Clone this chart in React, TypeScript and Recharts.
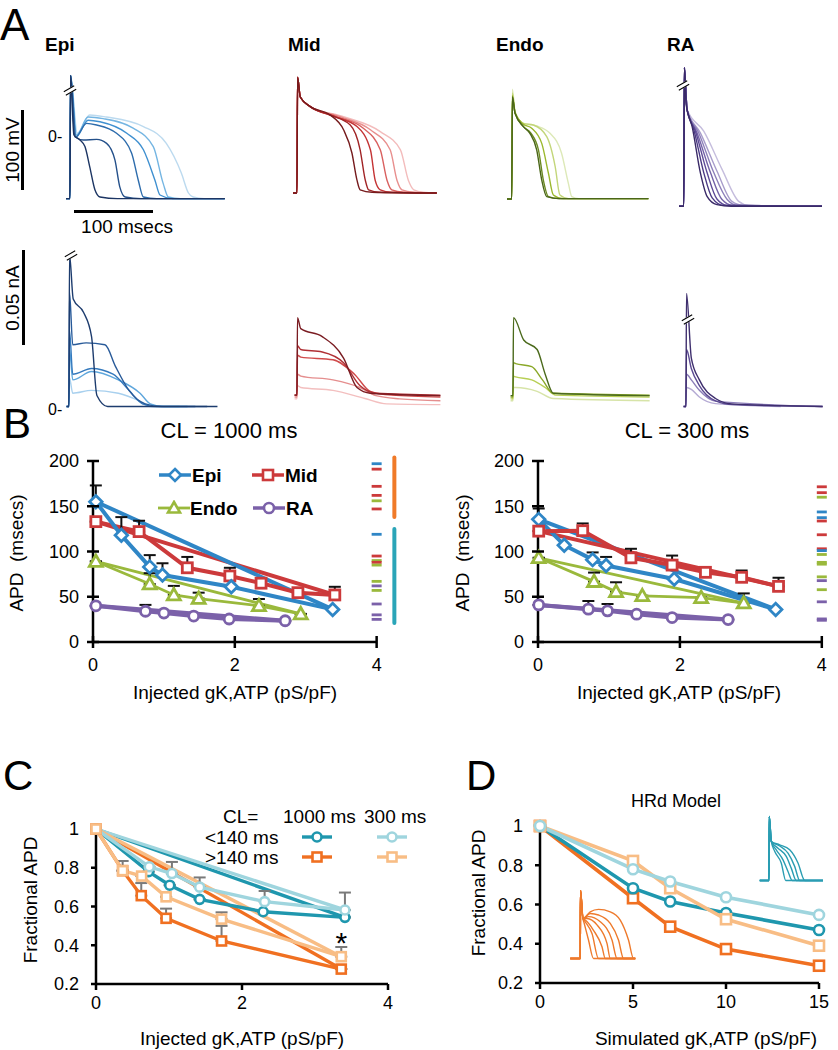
import { ComposedChart, LineChart, Line, XAxis, YAxis, Scatter, ErrorBar, ReferenceLine, ReferenceDot } from 'recharts';

const FONT = '"Liberation Sans", Arial, sans-serif';

// ---------- panel A: action potentials (ms, mV), dark -> light ----------
const EPI_AP = [
  [[-5, -77], [0, -77], [0.8, 77], [5, 2.5], [12.7, -3.8], [19, -12], [25, -37], [31.6, -66], [38, -75], [60, -77], [196, -77]],
  [[-5, -77], [0, -77], [0.8, 77], [6.3, 0.4], [16.9, -3.8], [33.8, -3], [46.4, -8], [57, -29], [63, -62], [70, -75], [90, -77], [196, -77]],
  [[-5, -77], [0, -77], [0.8, 77], [7.6, 0.4], [21, 17], [33.8, 15], [59, 4.6], [78, -20], [86.5, -54], [93, -75], [110, -77], [196, -77]],
  [[-5, -77], [0, -77], [0.8, 77], [7.6, 0], [23, 21], [38, 19], [72, 4.6], [93, -16], [107.6, -54], [114, -72.5], [130, -77], [196, -77]],
  [[-5, -77], [0, -77], [0.8, 77], [8.4, 2.5], [23, 25], [42, 23], [80, 11], [105.5, -12], [118, -58], [124.5, -75], [140, -77], [196, -77]],
  [[-5, -77], [0, -77], [0.8, 77], [9.3, 4.6], [25, 27.5], [46, 25], [93, 13], [122, -8], [141, -45], [150, -70], [156, -75], [170, -77], [196, -77]],
];
const EPI_AP_COLORS = ['#1c3563', '#24508a', '#2d6cac', '#3f90d0', '#74b5e2', '#bcdaef'];

const MID_AP = [
  [[-5, -70], [0, -70], [0.8, 74.6], [4.2, 50], [16.9, 38], [42, 27.5], [59, 9], [69.6, -20], [76, -54], [80, -66], [95, -69], [177, -70]],
  [[-5, -70], [0, -70], [0.8, 74.6], [4.2, 50], [16.9, 38], [42, 27.5], [67.5, 15], [80, -16], [86.5, -54], [90.7, -66], [105, -69], [177, -70]],
  [[-5, -70], [0, -70], [0.8, 74.6], [4.2, 50], [16.9, 38], [46.4, 26], [76, 13], [93, -16], [99, -54], [105.5, -66], [120, -69], [177, -70]],
  [[-5, -70], [0, -70], [0.8, 74.6], [4.2, 50], [16.9, 38], [50.6, 25.4], [84, 11], [105.5, -16], [114, -54], [120, -66], [135, -69], [177, -70]],
  [[-5, -70], [0, -70], [0.8, 74.6], [4.2, 50], [16.9, 38], [55, 25.4], [93, 9], [118, -16], [126.6, -54], [133, -66], [148, -69], [177, -70]],
  [[-5, -70], [0, -70], [0.8, 74.6], [4.2, 50], [16.9, 38], [59, 25.4], [105.5, 6.7], [131, -16], [141, -54], [148, -66], [160, -69], [177, -70]],
];
const MID_AP_COLORS = ['#761b1d', '#a12426', '#c43435', '#d9605f', '#e88f8e', '#f3bcbc'];

const ENDO_AP = [
  [[-6, -77.5], [0, -77.5], [0.8, 50], [4.2, 29.6], [14.8, 13], [23, 4.6], [31.6, -16], [38, -54], [44.3, -74.6], [60, -77], [173, -77]],
  [[-6, -77.5], [0, -77.5], [0.8, 50], [4.2, 29.6], [14.8, 13], [24, 5], [33.8, -16], [40, -54], [46.4, -74.6], [60, -77], [173, -77]],
  [[-6, -77.5], [0, -77.5], [0.8, 52], [4.2, 30], [14.8, 16], [25.3, 11], [38, -8], [46.4, -45], [52.7, -72.5], [65, -77], [173, -77]],
  [[-6, -77.5], [0, -77.5], [0.8, 55], [4.2, 31], [14.8, 17], [27.4, 15], [44.3, 0.4], [55, -37], [61, -72.5], [72, -77], [173, -77]],
  [[-6, -77.5], [0, -77.5], [0.8, 59.6], [4.2, 32], [14.8, 17], [31.6, 13.75], [48.5, 4.6], [63, -20], [71.7, -58], [76, -74.6], [85, -77], [173, -77]],
];
const ENDO_AP_COLORS = ['#4a6618', '#6b8a22', '#9bb82e', '#c3d67a', '#dde9b8'];

const RA_AP = [
  [[-6, -87], [0, -87], [0.8, 86], [3, 40], [10.5, 13], [21, -45], [29.5, -74.6], [42, -85], [60, -87], [175, -87]],
  [[-6, -87], [0, -87], [0.8, 86], [4.2, 33.75], [12.7, 8.75], [25.3, -45], [36, -76.7], [50, -86], [175, -87]],
  [[-6, -87], [0, -87], [0.8, 86], [4.2, 33.75], [14.8, 6.7], [29.5, -45], [42, -78], [55, -86], [175, -87]],
  [[-6, -87], [0, -87], [0.8, 86], [4.2, 33.75], [16.9, 4.6], [33.8, -45], [48.5, -78.7], [62, -86], [175, -87]],
  [[-6, -87], [0, -87], [0.8, 86], [4.2, 33.75], [19, 4.6], [38, -45], [55, -78.7], [68, -86], [175, -87]],
  [[-6, -87], [0, -87], [0.8, 86], [4.2, 33.75], [21, 4.6], [42, -43], [61, -81], [75, -86], [175, -87]],
  [[-6, -87], [0, -87], [0.8, 86], [4.2, 33.75], [25.3, 6.7], [48.5, -41], [69.6, -81], [82, -86], [175, -87]],
];
const RA_AP_COLORS = ['#3a2a68', '#4b3a84', '#5d4a96', '#7463a8', '#8d80ba', '#a89dcb', '#c5bddd'];

// ---------- panel A: KATP currents (ms, pA), dark -> light ----------
const EPI_I = [
  [[-3, 0], [0, 0], [0.7, 80], [5.4, 56.6], [18.4, 49.6], [28.6, 36.8], [35.4, 5.8], [49, 0], [188, 0]],
  [[-3, 0], [0, 0], [0.7, 60], [4.8, 32.5], [21.8, 33.5], [45.6, 32.5], [59, 21], [76, 8.5], [96.6, 1.4], [117, 0], [175, 0]],
  [[-3, 0], [0, 0], [0.7, 40], [4.8, 17], [28.6, 20], [55.8, 17], [76, 8.5], [93, 1.4], [110, 0], [160, 0]],
  [[-3, 0], [0, 0], [0.7, 30], [4.8, 14], [28.6, 18.4], [62.6, 14], [90, 7], [103, 1.4], [120, 0], [150, 0]],
  [[-3, 0], [0, 0], [0.7, 15], [4.8, 7], [28.6, 8.5], [62.6, 7], [90, 2.8], [103, 0], [140, 0]],
];
const EPI_I_COLORS = ['#1d3c6e', '#285a99', '#3479bd', '#5ea6dc', '#a8d0ee'];

const MID_I = [
  [[-3, 6], [0, 6], [0.7, 46.8], [4.8, 41], [32, 36.8], [59, 25.5], [76, 10], [93, 7], [181.6, 5.7]],
  [[-3, 6], [0, 6], [0.7, 32], [4.8, 30], [32, 28.7], [59, 23], [79.6, 11], [100, 7], [181.6, 6]],
  [[-3, 6], [0, 6], [0.7, 27], [4.8, 26], [45.6, 24.6], [72.8, 17], [93, 7.9], [120, 6], [181.6, 5]],
  [[-3, 5], [0, 5], [0.7, 17], [4.8, 16], [45.6, 14], [79.6, 10], [100, 5.7], [130, 4], [181.6, 3]],
  [[-3, 4], [0, 4], [0.7, 11], [4.8, 10], [45.6, 8.5], [86, 4.2], [113.6, 1.4], [181.6, 1]],
];
const MID_I_COLORS = ['#7a1c22', '#b03035', '#d04a4a', '#e58e8e', '#f3bfbf'];

const ENDO_I = [
  [[-3, 5.7], [0, 5.7], [0.7, 46.8], [13.6, 35], [30.6, 30], [40.8, 17], [51, 7], [173, 5.7]],
  [[-3, 5], [0, 5], [0.7, 23], [3.4, 22.6], [23.8, 21], [37.4, 14], [51, 7], [173, 6]],
  [[-3, 4], [0, 4], [0.7, 16], [3.4, 15.6], [23.8, 14], [40.8, 10], [54, 6], [173, 5]],
  [[-3, 3], [0, 3], [0.7, 10], [3.4, 10], [30.6, 8], [51, 4.2], [173, 3]],
];
const ENDO_I_COLORS = ['#4b6a1c', '#8aa828', '#b8cf55', '#d7e4a8'];

const RA_I = [
  [[-3, 0], [0, 0], [0.7, 59.5], [6.8, 25.5], [17, 14], [37.4, 4.2], [57.8, 1.4], [173, 0]],
  [[-3, 0], [0, 0], [0.7, 30], [6.8, 20], [17, 11], [37.4, 3], [60, 1], [173, 0]],
  [[-3, 0], [0, 0], [0.7, 17], [6.8, 14], [17, 8.5], [37.4, 2.8], [173, 0]],
  [[-3, 0], [0, 0], [0.7, 10], [6.8, 9], [17, 5], [37.4, 1.5], [120, 0]],
];
const RA_I_COLORS = ['#3f2f6e', '#5b4a92', '#8b7db8', '#b5abd4'];

// ---------- panel B: APD (msecs) vs injected gK,ATP (pS/pF) ----------
const EPI1000_X = [0.04, 0.4, 0.8, 0.98, 1.95, 3.38];
const EPI1000_Y = [155, 118, 83, 74, 61, 36];
const EPI1000_E = [18, 20, 13, 13, 0, 0];
const MID1000_X = [0.04, 0.65, 1.33, 1.93, 2.37, 2.89, 3.41];
const MID1000_Y = [133, 122, 82, 73, 65, 54.5, 52];
const MID1000_E = [0, 12, 12, 9, 0, 0, 9];
const ENDO1000_X = [0.04, 0.8, 1.14, 1.49, 2.34, 2.93];
const ENDO1000_Y = [89, 64, 52, 48, 40, 31];
const ENDO1000_E = [0, 12, 10, 6.5, 7.5, 0];
const RA1000_X = [0.04, 0.74, 1.0, 1.42, 1.92, 2.71];
const RA1000_Y = [40, 34, 32, 28.7, 25.4, 23.5];
const RA1000_E = [0, 7, 0, 0, 0, 0];

const EPI300_X = [0.01, 0.37, 0.77, 0.96, 1.92, 3.35];
const EPI300_Y = [135.5, 107, 91, 84.5, 69.6, 36];
const EPI300_E = [12, 0, 8, 9.5, 0, 0];
const MID300_X = [0.01, 0.63, 1.31, 1.89, 2.36, 2.87, 3.39];
const MID300_Y = [122.5, 123, 93, 85, 77, 71.5, 61.5];
const MID300_E = [0, 8, 10, 10.5, 0, 7.5, 9.5];
const ENDO300_X = [0.01, 0.79, 1.1, 1.47, 2.3, 2.9];
const ENDO300_Y = [93, 66.7, 55.5, 51, 49, 43];
const ENDO300_E = [0, 10, 10.5, 0, 0, 10.7];
const RA300_X = [0.01, 0.71, 0.98, 1.39, 1.89, 2.68];
const RA300_Y = [41, 36.3, 34.4, 30.7, 27, 24.8];
const RA300_E = [0, 9, 7.6, 0, 0, 0];

// individual control APDs shown as dashes at the right
const DASH1000_V = [197, 191, 172, 162, 156, 147, 119, 95, 90, 88, 85, 67, 62, 57, 42, 30, 25];
const DASH1000_C = ['epi', 'mid', 'mid', 'mid', 'endo', 'mid', 'epi', 'mid', 'endo', 'mid', 'endo', 'endo', 'ra', 'endo', 'ra', 'ra', 'ra'];
const DASH300_V = [171.5, 165, 160, 143.7, 137.4, 133.7, 118.5, 103, 101, 96.7, 88, 86, 72, 67.8, 57.8, 44.4, 25.5, 24];
const DASH300_C = ['mid', 'mid', 'endo', 'epi', 'epi', 'mid', 'mid', 'mid', 'epi', 'endo', 'endo', 'endo', 'endo', 'ra', 'endo', 'ra', 'ra', 'ra'];
const LONG_RANGE = [138, 204];
const SHORT_RANGE = [21, 125];

// ---------- panel C: fractional APD, experiments ----------
const C_T1000_X = [0, 0.72, 1.01, 1.42, 2.29, 3.41];
const C_T1000_Y = [1, 0.78, 0.71, 0.637, 0.573, 0.544];
const C_T1000_E = [0, 0, 0, 0, 0, 0];
const C_T300_X = [0, 0.73, 1.04, 1.42, 2.31, 3.41];
const C_T300_Y = [1, 0.805, 0.77, 0.7, 0.625, 0.582];
const C_T300_E = [0, 0, 0.06, 0.05, 0.055, 0.09];
const C_O1000_X = [0, 0.365, 0.62, 0.96, 1.72, 3.36];
const C_O1000_Y = [1, 0.785, 0.656, 0.539, 0.422, 0.277];
const C_O1000_E = [0, 0.05, 0.065, 0.05, 0.078, 0];
const C_O300_X = [0, 0.365, 0.625, 0.96, 1.72, 3.36];
const C_O300_Y = [1, 0.785, 0.757, 0.65, 0.535, 0.341];
const C_O300_E = [0, 0, 0, 0, 0.035, 0.05];
const C_STAR = [3.36, 0.415];

// ---------- panel D: HRd model ----------
const D_X = [0, 5, 7, 10, 15];
const D_T1000 = [1, 0.683, 0.615, 0.557, 0.47];
const D_T300 = [1, 0.78, 0.717, 0.637, 0.547];
const D_O1000 = [1, 0.632, 0.487, 0.373, 0.288];
const D_O300 = [1, 0.822, 0.683, 0.525, 0.39];

const D_INSET_LONG = [
  [[-40, -90], [0, -90], [1, 50], [10.7, -7.7], [40, 6], [73, 11], [120, 6], [160, -11], [193, -52], [213, -90], [220, -90]],
  [[-40, -90], [0, -90], [1, 50], [10.7, -7.7], [40, 2.6], [73, -0.6], [120, -18], [153, -52], [173, -90], [220, -90]],
  [[-40, -90], [0, -90], [1, 50], [10.7, -7.7], [33, -4], [80, -14.5], [127, -52], [147, -90], [220, -90]],
  [[-40, -90], [0, -90], [1, 50], [10.7, -7.7], [27, -7.7], [67, -21], [107, -59], [120, -90], [220, -90]],
  [[-40, -90], [0, -90], [1, 50], [10.7, -7.7], [20, -11], [53, -32], [87, -66], [100, -90], [220, -90]],
  [[-40, -90], [0, -90], [1, 50], [10.7, -7.7], [20, -14.5], [47, -38.6], [73, -90], [220, -90]],
  [[-40, -90], [0, -90], [1, 50], [10.7, -7.7], [16, -18], [33, -52], [53, -90], [220, -90]],
];
const D_INSET_SHORT = [
  [[-37, -90], [0, -90], [1, 41.7], [9.3, -9.8], [42.7, -16.6], [82.7, -27], [116, -54], [143, -90], [216, -90]],
  [[-37, -90], [0, -90], [1, 41.7], [9.3, -9.8], [42.7, -19], [76, -33.8], [102.7, -61], [122.7, -90], [216, -90]],
  [[-37, -90], [0, -90], [1, 41.7], [9.3, -9.8], [36, -23.5], [69, -40.6], [89, -64.6], [109, -90], [216, -90]],
  [[-37, -90], [0, -90], [1, 41.7], [9.3, -9.8], [29, -27], [56, -47.5], [76, -71.5], [93, -90], [216, -90]],
  [[-37, -90], [0, -90], [1, 41.7], [9.3, -9.8], [22.7, -30], [49, -54], [67, -90], [216, -90]],
];

const COL: any = { epi: '#2f86c6', mid: '#cc3a3b', endo: '#9ab93c', ra: '#7b61a9' };
const TEAL = '#1f97ae';
const TEAL_L = '#9fd5de';
const ORANGE = '#f07021';
const ORANGE_L = '#f8bd85';

const pts = (xs: number[], ys: number[], es?: number[]) =>
  xs.map((x, i) => ({ x, y: ys[i], e: [0, es ? es[i] : 0] }));
const ends = (xs: number[], ys: number[]) => [
  { x: xs[0], y: ys[0] },
  { x: xs[xs.length - 1], y: ys[ys.length - 1] },
];

function Marker({ shape, cx, cy, color, size, sw }: any) {
  if (cx == null || cy == null) return null;
  const h = size / 2;
  if (shape === 'diamond')
    return <polygon points={`${cx},${cy - h} ${cx + h},${cy} ${cx},${cy + h} ${cx - h},${cy}`} fill="#fff" stroke={color} strokeWidth={sw} />;
  if (shape === 'square')
    return <rect x={cx - h} y={cy - h} width={size} height={size} fill="#fff" stroke={color} strokeWidth={sw} />;
  if (shape === 'triangle')
    return <polygon points={`${cx},${cy - h} ${cx + h},${cy + h * 0.75} ${cx - h},${cy + h * 0.75}`} fill="#fff" stroke={color} strokeWidth={sw} strokeLinejoin="miter" />;
  return <circle cx={cx} cy={cy} r={h} fill="#fff" stroke={color} strokeWidth={sw} />;
}
const dotFn = (shape: string, color: string, size: number, sw: number) => (p: any) => (
  <Marker key={`d${p.index}`} shape={shape} cx={p.cx} cy={p.cy} color={color} size={size} sw={sw} />
);

function Txt({ x, y, children, size = 19, bold = false, center = false, rotate = false }: any) {
  const tx = center || rotate ? '-50%' : '0';
  return (
    <div
      style={{
        position: 'absolute', left: x, top: y, whiteSpace: 'nowrap', lineHeight: 1,
        fontSize: size, fontWeight: bold ? 700 : 400,
        transform: `translate(${tx},-50%)${rotate ? ' rotate(-90deg)' : ''}`,
      }}
    >
      {children}
    </div>
  );
}

function Brk({ x, y }: any) {
  return (
    <div style={{
      position: 'absolute', left: x - 6, top: y - 3, width: 12, height: 3,
      borderTop: '1.3px solid #000', borderBottom: '1.3px solid #000', background: '#fff',
      transform: 'rotate(-30deg)',
    }} />
  );
}

function Bar({ x, y, w, h }: any) {
  return <div style={{ position: 'absolute', left: x, top: y, width: w, height: h, background: '#000' }} />;
}

// trace chart placed so that t=0 sits at x0 and v=0 at y0
function Traces({ x0, y0, sx, sy, xd, yd, traces, colors, sw = 1.4 }: any) {
  const left = x0 + xd[0] * sx;
  const top = y0 - yd[1] * sy;
  const width = (xd[1] - xd[0]) * sx;
  const height = (yd[1] - yd[0]) * sy;
  const order = traces.map((_: any, i: number) => i).reverse();
  return (
    <div style={{ position: 'absolute', left, top, width, height }}>
      <LineChart width={width} height={height} margin={{ top: 0, right: 0, bottom: 0, left: 0 }}>
        <XAxis type="number" dataKey="t" domain={xd} hide allowDataOverflow />
        <YAxis type="number" domain={yd} hide allowDataOverflow />
        {order.map((i: number) => (
          <Line
            key={i}
            data={traces[i].map(([t, v]: number[]) => ({ t, v }))}
            dataKey="v"
            type="monotone"
            stroke={colors[i]}
            strokeWidth={sw}
            dot={false}
            isAnimationActive={false}
          />
        ))}
      </LineChart>
    </div>
  );
}

const yTickCross = (p: any) => (
  <g>
    <line x1={p.x + 2} x2={p.x + 14} y1={p.y} y2={p.y} stroke="#000" strokeWidth={2.5} />
    <text x={p.x - 6} y={p.y} dy="0.36em" textAnchor="end" fontSize={18} fill="#000" fontFamily={FONT}>{p.payload.value}</text>
  </g>
);
const xTickCross = (p: any) => (
  <g>
    <line x1={p.x} x2={p.x} y1={p.y - 14} y2={p.y - 2} stroke="#000" strokeWidth={2.5} />
    <text x={p.x} y={p.y + 8} dy="0.71em" textAnchor="middle" fontSize={18} fill="#000" fontFamily={FONT}>{p.payload.value}</text>
  </g>
);

function ApdChart({ left, width, yW, xMax, right, groups, dashV, dashC, bars }: any) {
  const dashes = dashV.map((v: number, i: number) => ({ x: 4.0, y: v, c: dashC[i] }));
  const dashShape = (p: any) => (
    <rect x={p.cx - 5} y={p.cy - 1.4} width={10} height={2.8} fill={COL[p.payload.c]} />
  );
  return (
    <div style={{ position: 'absolute', left, top: 440 }}>
      <ComposedChart width={width} height={270} margin={{ top: 21, right, bottom: 0, left: 0 }}>
        <XAxis type="number" dataKey="x" domain={[0, xMax]} ticks={[0, 2, 4]} height={68}
          axisLine={false} tickLine={false} tickSize={0} tickMargin={8} tick={xTickCross} />
        <YAxis type="number" domain={[0, 200]} ticks={[0, 50, 100, 150, 200]} width={yW}
          axisLine={{ stroke: '#000', strokeWidth: 2.5 }} tickLine={false} tickSize={0} tickMargin={8} tick={yTickCross} />
        <ReferenceLine segment={[{ x: 0, y: 0 }, { x: 4, y: 0 }]} stroke="#000" strokeWidth={2.5} />
        {bars &&
          bars.map((b: any, i: number) => (
            <ReferenceLine key={`b${i}`} segment={[{ x: 4.25, y: b.r[0] }, { x: 4.25, y: b.r[1] }]}
              stroke={b.c} strokeWidth={4} strokeLinecap="round" ifOverflow="visible" />
          ))}
        <Scatter data={dashes} dataKey="y" shape={dashShape} isAnimationActive={false} />
        {groups.map((g: any, i: number) => (
          <Line key={`s${i}`} data={ends(g.xs, g.ys)} dataKey="y" stroke={g.color} strokeWidth={g.lw}
            dot={false} isAnimationActive={false} />
        ))}
        {groups.map((g: any, i: number) => (
          <Line key={`p${i}`} data={pts(g.xs, g.ys, g.es)} dataKey="y" stroke={g.color} strokeWidth={g.lw}
            dot={dotFn(g.shape, g.color, g.size, 2.8)} isAnimationActive={false}>
            <ErrorBar dataKey="e" direction="y" width={6} stroke="#111" strokeWidth={2} />
          </Line>
        ))}
      </ComposedChart>
    </div>
  );
}

function FracChart({ left, width, yW, right, xDomain, xTicks, groups, children }: any) {
  return (
    <div style={{ position: 'absolute', left, top: 800 }}>
      <ComposedChart width={width} height={250} margin={{ top: right.top, right: right.r, bottom: 0, left: 0 }}>
        <XAxis type="number" dataKey="x" domain={xDomain} ticks={xTicks} height={right.xh}
          axisLine={{ stroke: '#000', strokeWidth: 2.5 }} tickLine={{ stroke: '#000', strokeWidth: 2.5 }}
          tickSize={6} tickMargin={6} tick={{ fill: '#000', fontSize: 18, fontFamily: FONT }} />
        <YAxis type="number" domain={[0.2, 1]} ticks={[0.2, 0.4, 0.6, 0.8, 1]} width={yW}
          tickFormatter={(v: number) => (v === 1 ? '1' : v.toFixed(1))}
          axisLine={{ stroke: '#000', strokeWidth: 2.5 }} tickLine={{ stroke: '#000', strokeWidth: 2.5 }}
          tickSize={5} tickMargin={12} tick={{ fill: '#000', fontSize: 18, fontFamily: FONT }} />
        {groups.filter((g: any) => g.span).map((g: any, i: number) => (
          <Line key={`s${i}`} data={ends(g.xs, g.ys)} dataKey="y" stroke={g.color} strokeWidth={g.lw}
            dot={false} isAnimationActive={false} />
        ))}
        {groups.map((g: any, i: number) => (
          <Line key={`p${i}`} data={pts(g.xs, g.ys, g.es)} dataKey="y" stroke={g.color} strokeWidth={g.lw}
            dot={dotFn(g.shape, g.color, g.size, 2.6)} isAnimationActive={false}>
            {g.es && <ErrorBar dataKey="e" direction="y" width={6} stroke="#7a7a7a" strokeWidth={2} />}
          </Line>
        ))}
        {children}
      </ComposedChart>
    </div>
  );
}

function Icon({ shape, color, size = 10, lw = 3.5, w = 34 }: any) {
  return (
    <svg width={w} height={16} style={{ display: 'block' }}>
      <line x1={1} x2={w - 1} y1={8} y2={8} stroke={color} strokeWidth={lw} />
      <Marker shape={shape} cx={w / 2} cy={8} color={color} size={size} sw={2.6} />
    </svg>
  );
}
function IconAt({ x, y, ...rest }: any) {
  return (
    <div style={{ position: 'absolute', left: x, top: y, transform: 'translate(-50%,-50%)' }}>
      <Icon {...rest} />
    </div>
  );
}

export default function App() {
  const b1000 = [
    { xs: RA1000_X, ys: RA1000_Y, es: RA1000_E, color: COL.ra, shape: 'circle', size: 10, lw: 4 },
    { xs: ENDO1000_X, ys: ENDO1000_Y, es: ENDO1000_E, color: COL.endo, shape: 'triangle', size: 13, lw: 2.8 },
    { xs: MID1000_X, ys: MID1000_Y, es: MID1000_E, color: COL.mid, shape: 'square', size: 10, lw: 4 },
    { xs: EPI1000_X, ys: EPI1000_Y, es: EPI1000_E, color: COL.epi, shape: 'diamond', size: 12.5, lw: 4 },
  ];
  const b300 = [
    { xs: RA300_X, ys: RA300_Y, es: RA300_E, color: COL.ra, shape: 'circle', size: 10, lw: 4 },
    { xs: ENDO300_X, ys: ENDO300_Y, es: ENDO300_E, color: COL.endo, shape: 'triangle', size: 13, lw: 2.8 },
    { xs: EPI300_X, ys: EPI300_Y, es: EPI300_E, color: COL.epi, shape: 'diamond', size: 12.5, lw: 4 },
    { xs: MID300_X, ys: MID300_Y, es: MID300_E, color: COL.mid, shape: 'square', size: 10, lw: 4 },
  ];
  const cGroups = [
    { xs: C_T1000_X, ys: C_T1000_Y, es: C_T1000_E, color: TEAL, shape: 'circle', size: 9, lw: 3.4, span: true },
    { xs: C_T300_X, ys: C_T300_Y, es: C_T300_E, color: TEAL_L, shape: 'circle', size: 9, lw: 3.4, span: true },
    { xs: C_O1000_X, ys: C_O1000_Y, es: C_O1000_E, color: ORANGE, shape: 'square', size: 9, lw: 3.4, span: true },
    { xs: C_O300_X, ys: C_O300_Y, es: C_O300_E, color: ORANGE_L, shape: 'square', size: 9, lw: 3.4, span: true },
  ];
  const dGroups = [
    { xs: D_X, ys: D_O1000, color: ORANGE, shape: 'square', size: 10, lw: 3.6 },
    { xs: D_X, ys: D_T1000, color: TEAL, shape: 'circle', size: 10, lw: 3.6 },
    { xs: D_X, ys: D_O300, color: ORANGE_L, shape: 'square', size: 10, lw: 3.6 },
    { xs: D_X, ys: D_T300, color: TEAL_L, shape: 'circle', size: 10, lw: 3.6 },
  ];

  const AP = { y0: 137, sx: 0.79, sy: 0.8 };
  const CUR = { y0: 406, sx: 0.79, sy: 1.9 };

  return (
    <div style={{ position: 'absolute', left: 0, top: 0, width: 838, height: 1050, background: '#fff', fontFamily: FONT, color: '#000', overflow: 'hidden' }}>
      {/* ---------- A ---------- */}
      <Txt x={0} y={25} size={44}>A</Txt>
      <Txt x={45} y={44} bold>Epi</Txt>
      <Txt x={288} y={44} bold>Mid</Txt>
      <Txt x={496} y={44} bold>Endo</Txt>
      <Txt x={667} y={44} bold>RA</Txt>

      <Traces x0={70} {...AP} xd={[-5, 200]} yd={[-90, 90]} traces={EPI_AP} colors={EPI_AP_COLORS} />
      <Traces x0={296.7} {...AP} xd={[-5, 180]} yd={[-90, 90]} traces={MID_AP} colors={MID_AP_COLORS} />
      <Traces x0={511.7} {...AP} xd={[-6, 176]} yd={[-90, 90]} traces={ENDO_AP} colors={ENDO_AP_COLORS} />
      <Traces x0={683.3} {...AP} xd={[-6, 178]} yd={[-92, 92]} traces={RA_AP} colors={RA_AP_COLORS} />
      <Brk x={70} y={91} />
      <Brk x={683} y={86} />

      <Bar x={21} y={110} w={2.5} h={80} />
      <Txt x={12} y={150} rotate>100 mV</Txt>
      <Txt x={48} y={137} size={16}>0-</Txt>
      <Bar x={74} y={210} w={79} h={2.5} />
      <Txt x={127} y={226} center>100 msecs</Txt>

      <Traces x0={68.8} {...CUR} xd={[-5, 190]} yd={[-5, 85]} traces={EPI_I} colors={EPI_I_COLORS} />
      <Traces x0={297.3} {...CUR} xd={[-5, 185]} yd={[-5, 85]} traces={MID_I} colors={MID_I_COLORS} />
      <Traces x0={513.4} {...CUR} xd={[-5, 176]} yd={[-5, 85]} traces={ENDO_I} colors={ENDO_I_COLORS} />
      <Traces x0={685.5} {...CUR} xd={[-5, 176]} yd={[-5, 85]} traces={RA_I} colors={RA_I_COLORS} />
      <Brk x={71} y={256} />
      <Brk x={688} y={320} />
      <Bar x={22} y={250} w={2.5} h={95} />
      <Txt x={12} y={298} rotate>0.05 nA</Txt>
      <Txt x={48} y={410} size={16}>0-</Txt>

      {/* ---------- B ---------- */}
      <Txt x={3} y={424} size={42}>B</Txt>
      <Txt x={229} y={431} size={22} center>CL = 1000 ms</Txt>
      <Txt x={687} y={431} size={22} center>CL = 300 ms</Txt>
      <ApdChart left={0} width={420} yW={93} xMax={4.4} right={15} groups={b1000}
        dashV={DASH1000_V} dashC={DASH1000_C}
        bars={[{ r: LONG_RANGE, c: '#f07a28' }, { r: SHORT_RANGE, c: '#2aa5b8' }]} />
      <ApdChart left={440} width={398} yW={98} xMax={4.2} right={2} groups={b300}
        dashV={DASH300_V} dashC={DASH300_C} />
      <Txt x={16} y={553} rotate>APD&nbsp; (msecs)</Txt>
      <Txt x={462} y={553} rotate>APD&nbsp; (msecs)</Txt>
      <Txt x={235} y={692} center>Injected gK,ATP (pS/pF)</Txt>
      <Txt x={679} y={692} center>Injected gK,ATP (pS/pF)</Txt>

      <IconAt x={175} y={475} shape="diamond" color={COL.epi} size={12} />
      <Txt x={192} y={475} bold>Epi</Txt>
      <IconAt x={268} y={475} shape="square" color={COL.mid} size={10} />
      <Txt x={285} y={475} bold>Mid</Txt>
      <IconAt x={174} y={508} shape="triangle" color={COL.endo} size={12} lw={2.8} />
      <Txt x={190} y={508} bold>Endo</Txt>
      <IconAt x={269} y={508} shape="circle" color={COL.ra} size={10} />
      <Txt x={286} y={508} bold>RA</Txt>

      {/* ---------- C ---------- */}
      <Txt x={3} y={776} size={42}>C</Txt>
      <FracChart left={0} width={420} yW={96} right={{ top: 29, r: 32, xh: 66 }} xDomain={[0, 4]} xTicks={[0, 2, 4]} groups={cGroups}>
        <ReferenceDot x={C_STAR[0]} y={C_STAR[1]} r={0} fill="none" stroke="none"
          label={{ value: '*', position: 'center', fontSize: 30, fill: '#000', fontFamily: FONT }} />
      </FracChart>
      <Txt x={30} y={900} rotate>Fractional APD</Txt>
      <Txt x={242} y={1038} center>Injected gK,ATP (pS/pF)</Txt>
      <Txt x={223} y={816}>CL=</Txt>
      <Txt x={283} y={816}>1000 ms</Txt>
      <Txt x={364} y={816}>300 ms</Txt>
      <Txt x={205} y={837}>&lt;140 ms</Txt>
      <Txt x={205} y={857}>&gt;140 ms</Txt>
      <IconAt x={317} y={837} shape="circle" color={TEAL} size={9} lw={3.4} w={32} />
      <IconAt x={392} y={837} shape="circle" color={TEAL_L} size={9} lw={3.4} w={32} />
      <IconAt x={317} y={857} shape="square" color={ORANGE} size={9} lw={3.4} w={32} />
      <IconAt x={392} y={857} shape="square" color={ORANGE_L} size={9} lw={3.4} w={32} />

      {/* ---------- D ---------- */}
      <Txt x={466} y={776} size={42}>D</Txt>
      <Txt x={676} y={801} size={18} center>HRd Model</Txt>
      <FracChart left={440} width={398} yW={100} right={{ top: 26, r: 19, xh: 67 }} xDomain={[0, 15]} xTicks={[0, 5, 10, 15]} groups={dGroups} />
      <Traces x0={580} y0={914.3} sx={0.25} sy={0.486} xd={[-45, 225]} yd={[-95, 55]} traces={D_INSET_LONG}
        colors={D_INSET_LONG.map(() => '#ee7a2c')} sw={1.4} />
      <Traces x0={769.3} y0={837} sx={0.25} sy={0.486} xd={[-40, 220]} yd={[-95, 55]} traces={D_INSET_SHORT}
        colors={D_INSET_SHORT.map(() => '#2a9db2')} sw={1.4} />
      <Txt x={478} y={893} rotate>Fractional APD</Txt>
      <Txt x={706} y={1038} center>Simulated gK,ATP (pS/pF)</Txt>
    </div>
  );
}
